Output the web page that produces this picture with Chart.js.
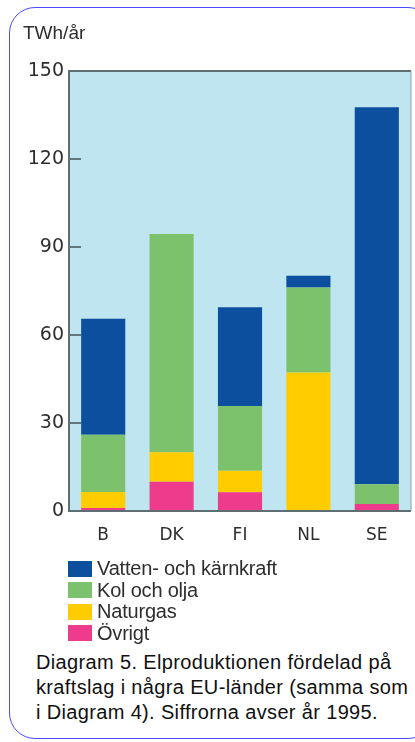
<!DOCTYPE html>
<html>
<head>
<meta charset="utf-8">
<script src="https://cdn.jsdelivr.net/npm/chart.js@4/dist/chart.umd.min.js"></script>
<style>
  html, body { margin: 0; padding: 0; background: #fff; }
  body { width: 415px; height: 742px; position: relative; overflow: hidden; font-family: "Liberation Sans", Arial, sans-serif; }
  .frame { position: absolute; left: 9px; top: 7px; width: 425px; height: 732px; border: 1.5px solid #4b4bff; border-radius: 26px; box-sizing: border-box; }
  #elChart { position: absolute; left: 0; top: 0; filter: blur(0.5px); }
  .unit { position: absolute; left: 23px; top: 22px; font-size: 19px; color: #2e2e2e; filter: blur(0.4px); }
  #legend { position: absolute; left: 68px; top: 558px; filter: blur(0.5px); }
  .item { height: 21.5px; display: flex; align-items: center; font-size: 20px; color: #2e2e2e; letter-spacing: -0.2px; }
  .box { width: 24px; height: 16px; margin-right: 5px; }
  .caption { position: absolute; left: 36px; top: 650px; font-size: 20px; line-height: 25px; color: #111; letter-spacing: 0.35px; white-space: nowrap; }
</style>
</head>
<body>
<div class="frame"></div>
<div class="unit">TWh/år</div>
<canvas id="elChart" width="415" height="545"></canvas>
<div id="legend"></div>
<div class="caption">Diagram 5. Elproduktionen fördelad på<br>kraftslag i några EU-länder (samma som<br>i Diagram 4). Siffrorna avser år 1995.</div>

<script>
// Elproduktion per kraftslag, TWh 1995
const countries = ['B', 'DK', 'FI', 'NL', 'SE'];
const ovrigt = [1, 10, 6.4, 0, 2.4];
const naturgas = [5.5, 10, 7.3, 47.2, 0];
const kolOlja = [19.5, 74.4, 22.1, 29, 6.7];
const vattenKarn = [39.5, 0, 33.7, 4, 128.5];
const yTicks = [0, 30, 60, 90, 120, 150];

// stacked bottom-up; legend lists them top-down
const series = [
    { label: 'Övrigt', data: ovrigt, color: '#ee3b8c' },
    { label: 'Naturgas', data: naturgas, color: '#ffcc00' },
    { label: 'Kol och olja', data: kolOlja, color: '#7cc26d' },
    { label: 'Vatten- och kärnkraft', data: vattenKarn, color: '#0b4f9e' }
];

// light blue plot area with a grey frame and short inner ticks
const plotFrame = {
    id: 'plotFrame',
    beforeDatasetsDraw(chart) {
        const { ctx, chartArea: a, scales } = chart;
        ctx.save();
        ctx.fillStyle = '#bee5f0';
        ctx.fillRect(a.left, a.top, a.right - a.left, a.bottom - a.top);
        ctx.strokeStyle = '#66777c';
        ctx.lineWidth = 2;
        yTicks.slice(1, -1).forEach(v => {
            const y = Math.round(scales.y.getPixelForValue(v));
            ctx.beginPath();
            ctx.moveTo(a.left, y);
            ctx.lineTo(a.left + 12, y);
            ctx.stroke();
        });
        ctx.restore();
    },
    afterDatasetsDraw(chart) {
        const { ctx, chartArea: a } = chart;
        ctx.save();
        ctx.strokeStyle = '#5f6e73';
        ctx.lineWidth = 2;
        ctx.beginPath();
        ctx.moveTo(a.right, a.top);
        ctx.lineTo(a.left, a.top);
        ctx.lineTo(a.left, a.bottom);
        ctx.lineTo(a.right, a.bottom);
        ctx.stroke();
        ctx.lineWidth = 1;
        ctx.strokeStyle = '#8aa3aa';
        ctx.beginPath();
        ctx.moveTo(a.right, a.top);
        ctx.lineTo(a.right, a.bottom);
        ctx.stroke();
        ctx.restore();
    }
};

const ctxEl = document.getElementById('elChart').getContext('2d');
new Chart(ctxEl, {
    type: 'bar',
    data: {
        labels: countries,
        datasets: series.map(s => ({
            label: s.label,
            data: s.data,
            backgroundColor: s.color,
            borderWidth: 0,
            barPercentage: 0.645,
            categoryPercentage: 1
        }))
    },
    options: {
        responsive: false,
        animation: false,
        layout: { padding: { top: 71, right: 4, left: 0, bottom: 0 } },
        plugins: { legend: { display: false }, tooltip: { enabled: false } },
        scales: {
            x: {
                stacked: true,
                grid: { display: false, drawTicks: false },
                border: { display: false },
                ticks: { padding: 14, color: '#2e2e2e', font: { family: 'DejaVu Sans', size: 17 } },
                afterFit(axis) { axis.height = 34; }
            },
            y: {
                stacked: true,
                min: 0,
                max: 150,
                afterBuildTicks(axis) { axis.ticks = yTicks.map(v => ({ value: v })); },
                grid: { display: false, drawTicks: false },
                border: { display: false },
                ticks: { padding: 5, color: '#2e2e2e', font: { family: 'DejaVu Sans', size: 19 } },
                afterFit(axis) { axis.width = 69; }
            }
        }
    },
    plugins: [plotFrame]
});

// legend, top-down
const legendEl = document.getElementById('legend');
series.slice().reverse().forEach(s => {
    const row = document.createElement('div');
    row.className = 'item';
    row.innerHTML = '<span class="box" style="background:' + s.color + '"></span>' + s.label;
    legendEl.appendChild(row);
});
</script>
</body>
</html>
